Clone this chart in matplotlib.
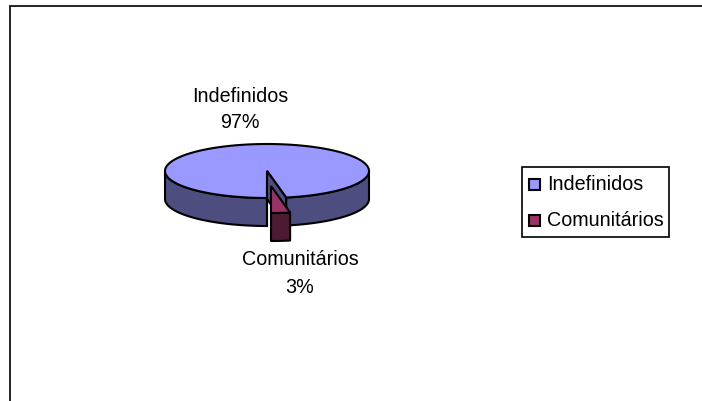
import numpy as np
import matplotlib
matplotlib.use("Agg")
import matplotlib.pyplot as plt
from matplotlib.patches import Polygon, Rectangle

categories = ["Indefinidos", "Comunitários"]
values = [97, 3]
percent_labels = ["97%", "3%"]
top_colors = ["#9999FF", "#993366"]
side_colors = ["#4D4D80", "#4D1A33"]

W, H = 702, 402
CX, CY, RX, RY, DEPTH = 267, 172, 102, 27, 28
EXPLODE = (4, 15)
LW = 1.5

plt.rcParams["font.family"] = ["Liberation Sans", "DejaVu Sans"]
fig = plt.figure(figsize=(7.02, 4.02), dpi=100, facecolor="white")
ax = fig.add_axes([0, 0, 1, 1])
ax.set_xlim(0, W)
ax.set_ylim(H, 0)
ax.axis("off")

# chart frame: only the top and left edges fall inside the image
ax.plot([10, 10, W + 2], [H + 2, 6.5, 6.5], color="black", lw=1.2, solid_joinstyle="miter")


def rim(a0, a1, ox=0, oy=0, n=180):
    t = np.radians(np.linspace(a0, a1, n))
    return np.c_[CX + ox + RX * np.cos(t), CY + oy - RY * np.sin(t)]


def side(pts, color, z):
    low = pts[::-1] + [0, DEPTH]
    ax.add_patch(Polygon(np.r_[pts, low], closed=True, fc=color, ec="black", lw=LW, zorder=z, joinstyle="round"))


total = sum(values)
sweep = 360 * values[1] / total
a_start = -90
a_end = a_start + sweep
ex, ey = EXPLODE

# slice 0: main body, going counter-clockwise from the end of the small slice to its start
side(rim(180, 270), side_colors[0], 2)
side(rim(a_end, 0), side_colors[0], 2)
body = rim(a_end, a_start + 360, n=400)
centre = np.array([[CX, CY]])
ax.add_patch(Polygon(np.r_[body, centre], closed=True, fc=top_colors[0], ec="black", lw=LW, zorder=3))
# inner cut face
p = rim(a_end, a_end, n=1)
ax.add_patch(Polygon(np.r_[centre, p, p + [0, DEPTH], centre + [0, DEPTH]], closed=True,
                     fc=side_colors[0], ec="black", lw=LW, zorder=4))
q = rim(a_start, a_start, n=1)
ax.plot([q[0, 0], q[0, 0]], [q[0, 1], q[0, 1] + DEPTH], color="black", lw=LW, zorder=4)

# slice 1: exploded small slice
w = rim(a_start, a_end, ex, ey, n=30)
side(w, side_colors[1], 5)
ax.add_patch(Polygon(np.r_[w, [[CX + ex, CY + ey]]], closed=True, fc=top_colors[1], ec="black", lw=LW, zorder=6))

# data labels
FS = 14.2
ax.text(240, 97, categories[0], fontsize=FS, ha="center", va="center", color="black")
ax.text(240, 122, percent_labels[0], fontsize=FS, ha="center", va="center", color="black")
ax.text(300, 260, categories[1], fontsize=FS, ha="center", va="center", color="black")
ax.text(300, 288, percent_labels[1], fontsize=FS, ha="center", va="center", color="black")

# legend
ax.add_patch(Rectangle((521.5, 167.5), 147.5, 70.5, fc="white", ec="black", lw=1.2, zorder=2))
for (yy, name, col) in zip([185, 221], categories, top_colors):
    ax.add_patch(Rectangle((529, yy - 5.5), 11, 11, fc=col, ec="black", lw=1.5, zorder=3))
    ax.text(547, yy, name, fontsize=FS, ha="left", va="center", color="black", zorder=3)

fig.savefig("out.png", dpi=100, facecolor="white")
